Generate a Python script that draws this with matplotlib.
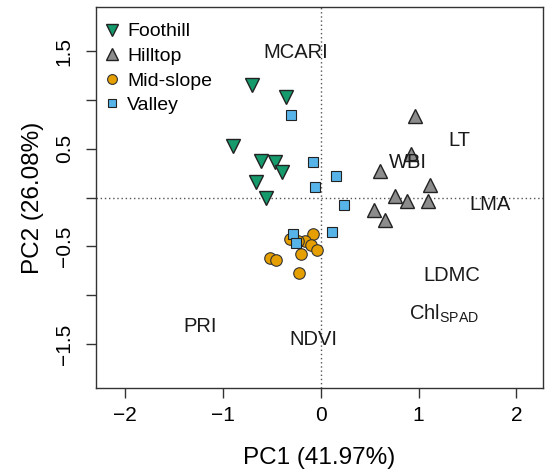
import numpy as np
import matplotlib
matplotlib.use("Agg")
import matplotlib.pyplot as plt

plt.rcParams['font.family'] = ['Liberation Sans', 'DejaVu Sans']

# PCA scores by site
foothill_x = [-0.70, -0.36, -0.90, -0.61, -0.47, -0.40, -0.66, -0.56]
foothill_y = [1.15, 1.03, 0.53, 0.37, 0.36, 0.26, 0.16, 0.00]

hilltop_x = [0.96, 0.92, 0.60, 1.12, 0.76, 0.88, 1.10, 0.54, 0.66]
hilltop_y = [0.83, 0.45, 0.27, 0.13, 0.02, -0.04, -0.04, -0.13, -0.23]

midslope_x = [-0.32, -0.08, -0.16, -0.10, -0.04, -0.20, -0.52, -0.46, -0.22, -0.23]
midslope_y = [-0.42, -0.37, -0.45, -0.49, -0.54, -0.58, -0.62, -0.64, -0.77, -0.44]

valley_x = [-0.30, -0.08, -0.06, 0.16, 0.24, 0.11, -0.28, -0.25]
valley_y = [0.84, 0.36, 0.11, 0.22, -0.08, -0.35, -0.37, -0.47]

# variable labels
var_names = ['MCARI', 'LT', 'WBI', 'LMA', 'LDMC', 'Chl$_{\\mathregular{SPAD}}$', 'PRI', 'NDVI']
var_x = [-0.26, 1.42, 0.89, 1.73, 1.34, 1.26, -1.23, -0.08]
var_y = [1.48, 0.58, 0.36, -0.07, -0.80, -1.19, -1.32, -1.45]

fig = plt.figure(figsize=(5.45, 4.72), dpi=100)
ax = fig.add_axes([0.176, 0.178, 0.820, 0.807])

ax.axhline(0, color='#555555', linestyle=(0, (1, 2)), linewidth=1, zorder=1)
ax.axvline(0, color='#555555', linestyle=(0, (1, 2)), linewidth=1, zorder=1)

ax.plot(foothill_x, foothill_y, 'v', ms=10, mfc='#159a6c', mec='#222222', mew=1, ls='none', label='Foothill', zorder=3)
ax.plot(hilltop_x, hilltop_y, '^', ms=10, mfc='#8c8c8c', mec='#222222', mew=1, ls='none', label='Hilltop', zorder=3)
ax.plot(midslope_x, midslope_y, 'o', ms=8.3, mfc='#e69f00', mec='#333333', mew=0.8, ls='none', label='Mid-slope', zorder=3)
ax.plot(valley_x, valley_y, 's', ms=7.5, mfc='#56b4e9', mec='#222222', mew=0.8, ls='none', label='Valley', zorder=4)

for name, x, y in zip(var_names, var_x, var_y):
    ax.text(x, y, name, fontsize=14.5, ha='center', va='center', color='#1a1a1a', zorder=5)

ax.set_xlim(-2.30, 2.27)
ax.set_ylim(-1.95, 1.95)
ax.set_xticks([-2, -1, 0, 1, 2])
ax.set_xticklabels(['\u22122', '\u22121', '0', '1', '2'])
ax.set_yticks([-1.5, -1.0, -0.5, 0, 0.5, 1.0, 1.5])
ax.set_yticklabels(['\u22121.5', '', '\u22120.5', '', '0.5', '', '1.5'], rotation=90, va='center')
ax.tick_params(labelsize=15, length=7, width=1, color='#333333', pad=6)
ax.tick_params(axis='y', pad=9)
ax.set_xlabel('PC1 (41.97%)', fontsize=17.5, labelpad=16)
ax.set_ylabel('PC2 (26.08%)', fontsize=17.5, labelpad=8)
for s in ax.spines.values():
    s.set_linewidth(1)
    s.set_color('#333333')

ax.legend(loc='upper left', bbox_to_anchor=(-0.004, 0.979), frameon=False, fontsize=14,
          handletextpad=0.3, borderaxespad=0, labelspacing=0.36, handlelength=1.0,
          markerscale=0.85)

fig.savefig('out.png', dpi=100)
